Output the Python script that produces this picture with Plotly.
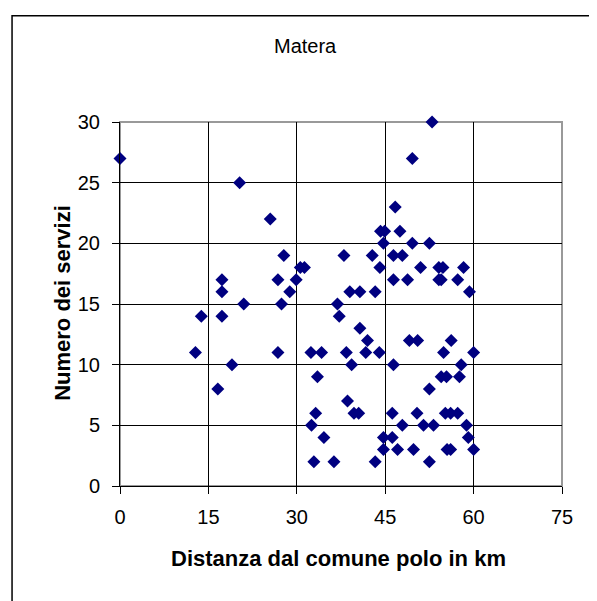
import plotly.graph_objects as go

# Distanza dal comune polo (km) and Numero dei servizi
distanza = [0, 12.8, 13.8, 16.6, 17.3, 17.3, 17.3, 19, 20.3, 21,
            25.5, 26.8, 26.8, 27.4, 27.8, 28.8, 29.9, 30.6, 31.3, 32.4,
            32.5, 32.9, 33.2, 33.5, 34.2, 34.6, 36.3, 36.9, 37.2, 38,
            38.4, 38.6, 39, 39.3, 39.7, 40.5, 40.7, 40.7, 41.7, 42,
            42.8, 43.3, 43.3, 44, 44.1, 44.2, 44.7, 44.7, 44.7, 44.9,
            46.2, 46.2, 46.4, 46.4, 46.4, 46.7, 47.1, 47.5, 47.9, 47.9,
            48.8, 49.1, 49.6, 49.6, 49.8, 50.5, 50.4, 51, 51.5, 52.5,
            52.5, 52.5, 52.95, 53.2, 54.1, 54.8, 54.1, 54.5, 54.9, 54.5,
            55.4, 55.2, 55.5, 56.1, 56.1, 56.2, 57.3, 57.3, 57.6, 57.9,
            58.3, 58.8, 59.1, 59.3, 60, 60]
servizi = [27, 11, 14, 8, 17, 16, 14, 10, 25, 15,
           22, 17, 11, 15, 19, 16, 17, 18, 18, 11,
           5, 2, 6, 9, 11, 4, 2, 15, 14, 19,
           11, 7, 16, 10, 6, 6, 16, 13, 11, 12,
           19, 16, 2, 11, 18, 21, 20, 4, 3, 21,
           6, 4, 19, 17, 10, 23, 3, 21, 19, 5,
           17, 12, 27, 20, 3, 12, 6, 18, 5, 20,
           8, 2, 30, 5, 18, 18, 17, 17, 11, 9,
           9, 6, 3, 3, 6, 12, 17, 6, 9, 10,
           18, 5, 4, 16, 11, 3]

x_ticks = [0, 15, 30, 45, 60, 75]
y_ticks = [0, 5, 10, 15, 20, 25, 30]

OFF = 8  # page body margin
W, H = 597 - OFF, 601 - OFF
L, R = 119.5 - OFF, 561.7 - OFF
T, B = 121.7 - OFF, 485.7 - OFF
pw, ph = R - L, B - T

def px2x(p):
    return (p - OFF - L) / pw

def py2y(p):
    return (B - (p - OFF)) / ph

fig = go.Figure()
fig.add_trace(go.Scatter(
    x=distanza, y=servizi, mode="markers",
    marker=dict(symbol="diamond", size=10, color="#000080", line=dict(width=0)),
    cliponaxis=False, showlegend=False,
))

font = "Arial, Liberation Sans, sans-serif"
fig.update_layout(
    width=W, height=H,
    margin=dict(l=L, r=W - R, t=T, b=H - B, pad=0),
    paper_bgcolor="white", plot_bgcolor="white",
    font=dict(family=font, size=20, color="black"),
    xaxis=dict(range=[0, 75], tickvals=x_ticks, ticktext=[str(v) for v in x_ticks],
               showgrid=True, gridcolor="black", gridwidth=1,
               showline=True, linecolor="black", linewidth=1,
               ticks="outside", ticklen=7, tickcolor="black",
               zeroline=False, tickfont=dict(size=20), ticklabelstandoff=6),
    yaxis=dict(range=[0, 30], tickvals=y_ticks, ticktext=[str(v) for v in y_ticks],
               showgrid=True, gridcolor="black", gridwidth=1,
               showline=True, linecolor="black", linewidth=1,
               ticks="outside", ticklen=7, tickcolor="black",
               zeroline=False, tickfont=dict(size=20), ticklabelstandoff=8),
    shapes=[
        dict(type="rect", xref="x domain", yref="y domain", x0=0, x1=1, y0=0, y1=1,
             line=dict(color="#999999", width=2), layer="below"),
        dict(type="rect", xref="paper", yref="paper",
             x0=px2x(11.5), x1=px2x(620), y0=py2y(620), y1=py2y(15.5),
             line=dict(color="black", width=1.5), layer="below"),
    ],
    annotations=[
        dict(text="Matera", xref="paper", yref="paper", x=px2x(305), y=py2y(45.5),
             xanchor="center", yanchor="middle", showarrow=False,
             font=dict(size=20, family=font)),
        dict(text="<b>Distanza dal comune polo in km</b>", xref="paper", yref="paper",
             x=px2x(338), y=py2y(558), xanchor="center", yanchor="middle", showarrow=False,
             font=dict(size=22, family=font)),
        dict(text="<b>Numero dei servizi</b>", xref="paper", yref="paper",
             x=px2x(62), y=py2y(303), xanchor="center", yanchor="middle", showarrow=False,
             textangle=-90, font=dict(size=22, family=font)),
    ],
)

fig.write_html("out.html")
